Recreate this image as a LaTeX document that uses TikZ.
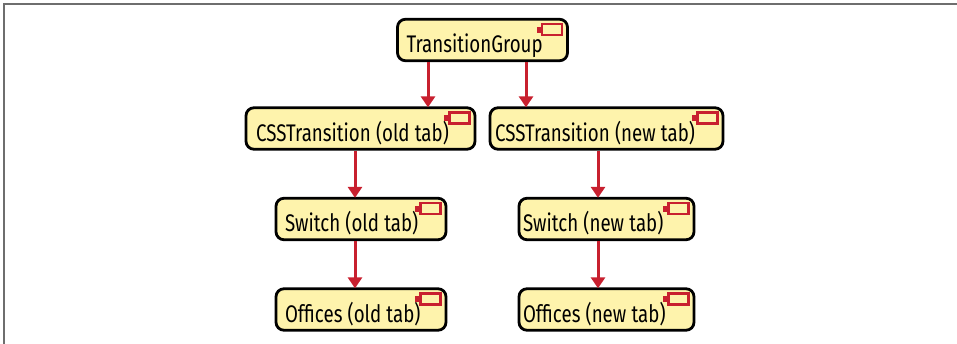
\documentclass[tikz,border=0pt]{standalone}
\usepackage{fontspec}
\setmainfont[FakeStretch=0.78]{Fira Sans}
\usetikzlibrary{arrows.meta}
\tikzset{
  comp/.style 2 args={draw=black,line width=2.8pt,rounded corners=8pt,fill=compfill,
    inner xsep=0pt,inner ysep=0pt,text width=#1pt,align=left,text height=33.5pt,text depth=8pt,
    execute at begin node={\spaceskip=5.2pt\hspace*{#2pt}},font=\fontsize{24}{26}\selectfont,text=black},
  flow/.style={draw=flowred,line width=3pt,-{Triangle[length=11pt,width=14pt]},shorten >=-1pt},
  tabicon/.style={draw=flowred,line width=2.6pt}
}
\definecolor{compfill}{HTML}{FEF3AC}
\definecolor{flowred}{HTML}{C8202F}
\definecolor{framegray}{HTML}{6E6E6E}
\begin{document}
\begin{tikzpicture}[x=1pt,y=-1pt]
        \useasboundingbox (0,0) rectangle (957,344);
        \draw[framegray,line width=1.3pt] (4,344) -- (4,4) -- (957,4);

        \node[comp={170}{9}] (group) at (482.5,40) {TransitionGroup};
        \node[comp={229}{10}] (cssold) at (360.5,128.5) {CSSTransition (old tab)};
        \node[comp={233}{5}] (cssnew) at (606.5,128.5) {CSSTransition (new tab)};
        \node[comp={170}{9}] (switchold) at (361,219) {Switch (old tab)};
        \node[comp={175}{4}] (switchnew) at (606.5,219) {Switch (new tab)};
        \node[comp={170}{9}] (officesold) at (361,309.5) {Offices (old tab)};
        \node[comp={175}{4}] (officesnew) at (606.5,309.5) {Offices (new tab)};

        \foreach \name in {group,cssold,cssnew,switchold,switchnew,officesold,officesnew} {
          \fill[flowred] ([xshift=-32pt,yshift=-9pt]\name.north east) rectangle ([xshift=-26pt,yshift=-15pt]\name.north east);
          \draw[tabicon] ([xshift=-27pt,yshift=-6pt]\name.north east) rectangle ([xshift=-7pt,yshift=-17pt]\name.north east);
        }

        \draw[flow] (group.south -| 428,0) -- (cssold.north -| 428,0);
        \draw[flow] (group.south -| 526,0) -- (cssnew.north -| 526,0);
        \draw[flow] (cssold.south -| 355,0) -- (switchold.north -| 355,0);
        \draw[flow] (cssnew.south -| 598,0) -- (switchnew.north -| 598,0);
        \draw[flow] (switchold.south -| 355,0) -- (officesold.north -| 355,0);
        \draw[flow] (switchnew.south -| 598,0) -- (officesnew.north -| 598,0);
      \end{tikzpicture}
\end{document}
